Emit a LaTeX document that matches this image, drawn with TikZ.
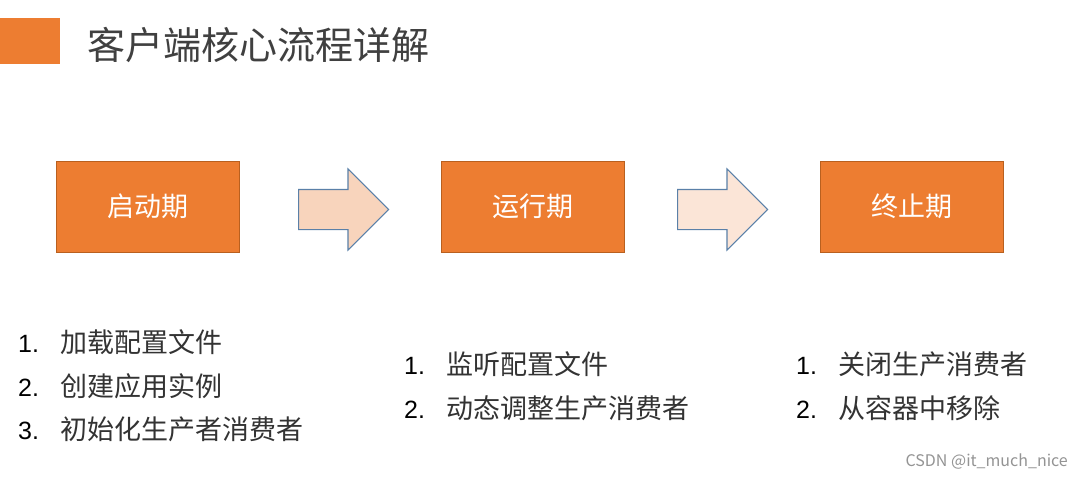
\documentclass[tikz,border=0pt]{standalone}
\usepackage{fontspec}
\setmainfont{Liberation Sans}
\newfontfamily\cjkfont{Noto Sans CJK SC}
\usetikzlibrary{shapes.arrows}

\definecolor{phaseorange}{HTML}{ED7D31}
\definecolor{phaseedge}{HTML}{B9601F}
\definecolor{arrowedge}{HTML}{5A80A8}
\definecolor{arrowfillA}{HTML}{F8D4BC}
\definecolor{arrowfillB}{HTML}{FBE5D7}
\definecolor{titlegray}{HTML}{404040}

\tikzset{
  phase/.style={draw=phaseedge,line width=0.8pt,fill=phaseorange,minimum width=183pt,minimum height=91pt,
    inner sep=0pt,text=white,font=\cjkfont\fontsize{27}{30}\selectfont},
  blockarrow/.style={single arrow,draw=arrowedge,line width=1.1pt,minimum height=90pt,minimum width=80pt,
    single arrow head extend=20.5pt,inner xsep=0pt,inner ysep=19.5pt,anchor=west},
  item/.style={anchor=west,inner sep=0pt,font=\fontsize{25}{28}\selectfont},
}
\newcommand{\listline}[2]{\makebox[42pt][l]{#1}{\cjkfont\fontsize{27}{30}\selectfont\color{titlegray!80!black}#2}}

\begin{document}
\begin{tikzpicture}[x=1pt,y=-1pt]
  \useasboundingbox[fill=white] (0,0) rectangle (1080,479);
  % title bar
  \fill[phaseorange] (0,18) rectangle (60,64);
  \node[anchor=west,inner sep=0pt,text=titlegray,font=\cjkfont\fontsize{38}{41}\selectfont] (title) at (87,45) {客户端核心流程详解};
  % phases
  \node[phase] (start) at (147.5,206.5) {启动期};
  \node[phase] (run) at (532.5,206.5) {运行期};
  \node[phase] (stop) at (911.5,206.5) {终止期};
  \node[blockarrow,fill=arrowfillA] (arrA) at (298,209.5) {};
  \node[blockarrow,fill=arrowfillB] (arrB) at (677,209.5) {};
  % steps of each phase
  \node[item] (s1) at (18,342) {\listline{1.}{加载配置文件}};
  \node[item] (s2) at (18,386) {\listline{2.}{创建应用实例}};
  \node[item] (s3) at (18,429) {\listline{3.}{初始化生产者消费者}};
  \node[item] (r1) at (404,364) {\listline{1.}{监听配置文件}};
  \node[item] (r2) at (404,408) {\listline{2.}{动态调整生产消费者}};
  \node[item] (t1) at (796,364) {\listline{1.}{关闭生产消费者}};
  \node[item] (t2) at (796,408) {\listline{2.}{从容器中移除}};
  \node[anchor=east,inner sep=0pt,text=black!42,font=\cjkfont\fontsize{16}{18}\selectfont] (mark) at (1068,462) {CSDN @it\_much\_nice};
\end{tikzpicture}
\end{document}
